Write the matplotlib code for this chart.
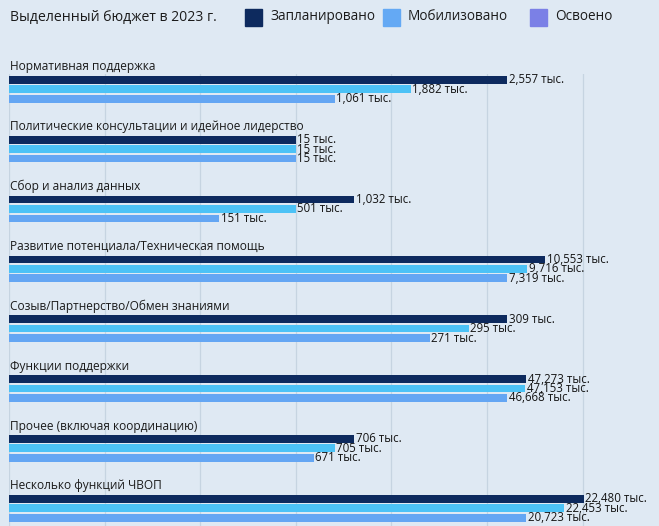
import matplotlib
matplotlib.use("Agg")
import matplotlib.pyplot as plt
from matplotlib.patches import Rectangle

plt.rcParams['font.family'] = ['Open Sans', 'DejaVu Sans']

# categories, top to bottom
categories = [
    "Нормативная поддержка",
    "Политические консультации и идейное лидерство",
    "Сбор и анализ данных",
    "Развитие потенциала/Техническая помощь",
    "Созыв/Партнерство/Обмен знаниями",
    "Функции поддержки",
    "Прочее (включая координацию)",
    "Несколько функций ЧВОП",
]

# bar lengths as drawn (one gridline step = 1)
planned_len = [5.21, 3.0, 3.61, 5.61, 5.21, 5.41, 3.61, 6.01]
mobilized_len = [4.20, 3.0, 3.0, 5.42, 4.81, 5.40, 3.41, 5.81]
spent_len = [3.41, 3.0, 2.20, 5.21, 4.40, 5.21, 3.19, 5.41]

# value labels shown next to the bars
planned_txt = ["2,557", "15", "1,032", "10,553", "309", "47,273", "706", "22,480"]
mobilized_txt = ["1,882", "15", "501", "9,716", "295", "47,153", "705", "22,453"]
spent_txt = ["1,061", "15", "151", "7,319", "271", "46,668", "671", "20,723"]

bar_colors = ["#0d2a5e", "#4cc2f6", "#64a6f3"]
legend_labels = ["Запланировано", "Мобилизовано", "Освоено"]
legend_colors = ["#0d2a5e", "#64a9f4", "#7b80e6"]

bg = "#dfe9f3"
W, H = 659, 526
fig = plt.figure(figsize=(W / 100, H / 100), dpi=100, facecolor=bg)
ax = fig.add_axes([9 / W, 0, 650 / W, 452 / H], facecolor=bg)

offsets = [0.098, 0.254, 0.413]
bh = 0.129
series = [(planned_len, planned_txt), (mobilized_len, mobilized_txt), (spent_len, spent_txt)]
for j, (lens, txts) in enumerate(series):
    ys = [i + offsets[j] for i in range(len(categories))]
    ax.barh(ys, lens, height=bh, color=bar_colors[j], zorder=2)
    for y, l, t in zip(ys, lens, txts):
        ax.text(l + 0.015, y, t + " тыс.", va="center", ha="left", fontsize=8.3,
                color="#141414", zorder=3, clip_on=False)

for i, c in enumerate(categories):
    ax.text(0.01, i - 0.117, c, va="center", ha="left", fontsize=8.6,
            color="#1b1b1b", clip_on=False)

ax.set_xlim(0, 650 / 95.6)
ax.set_ylim(452 / 59.85, 0)
ax.set_xticks(range(0, 7))
ax.set_yticks([])
ax.tick_params(axis="x", length=0, labelbottom=False)
ax.grid(axis="x", color="#c6d4e1", linewidth=0.9, zorder=0)
for s in ax.spines.values():
    s.set_visible(False)

# header: title and legend
fig.text(10 / W, 1 - 17 / H, "Выделенный бюджет в 2023 г.", fontsize=10.1,
         color="#1b1b1b", va="center", ha="left")
sq_x = [245, 383, 530]
for x, lab, col in zip(sq_x, legend_labels, legend_colors):
    fig.add_artist(Rectangle((x / W, 1 - 26 / H), 17 / W, 17 / H,
                             transform=fig.transFigure, color=col))
    fig.text((x + 25) / W, 1 - 17 / H, lab, fontsize=9.8, color="#1b1b1b",
             va="center", ha="left")

fig.savefig("out.png", dpi=100, facecolor=bg)
